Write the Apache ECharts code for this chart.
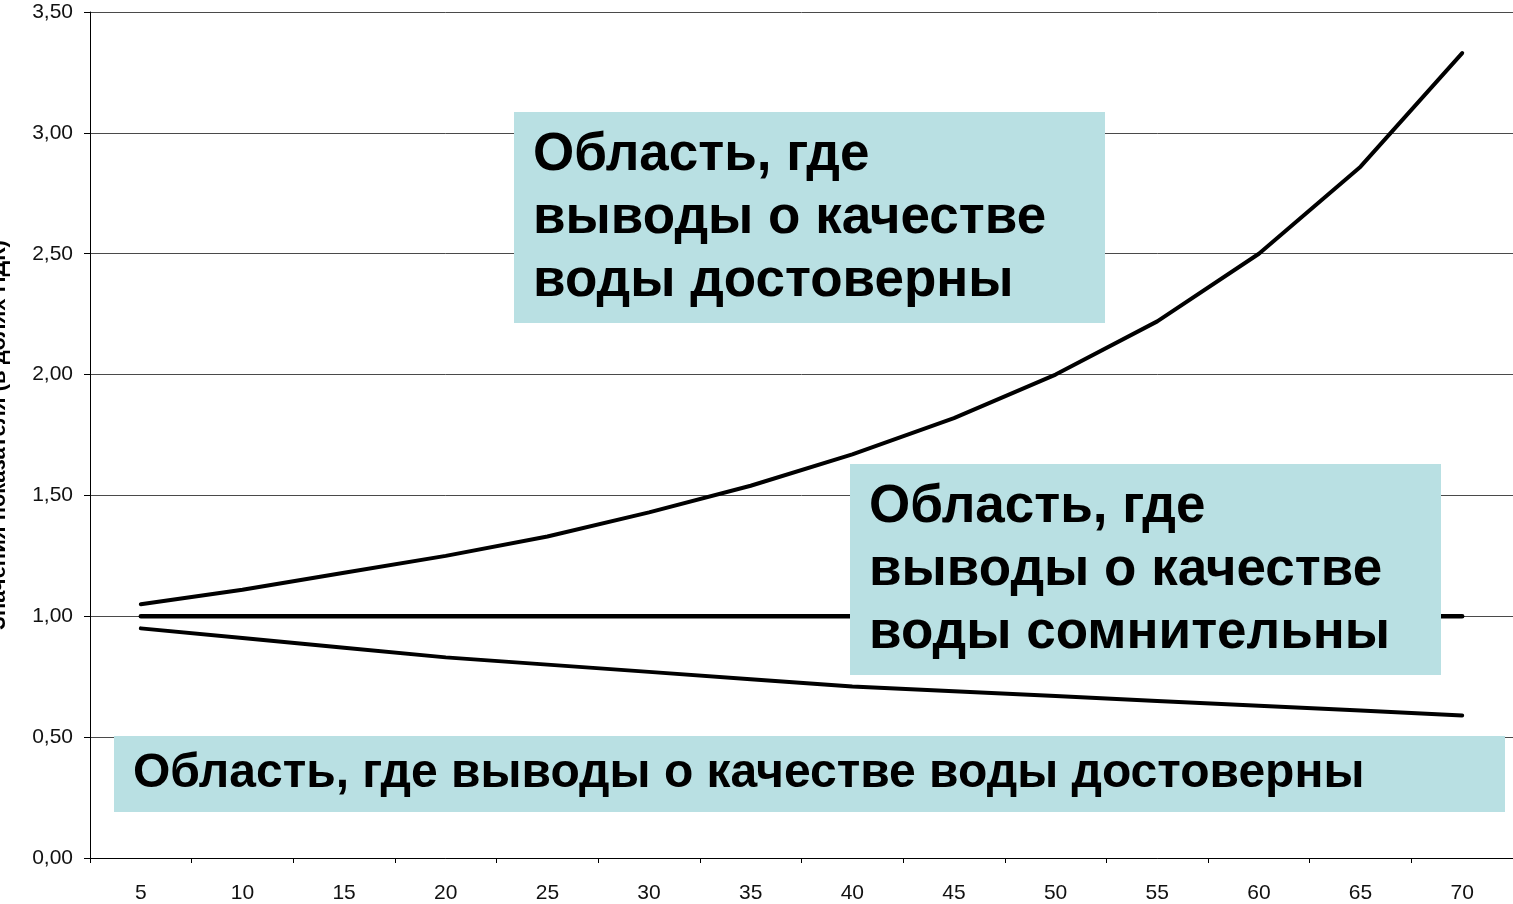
<!DOCTYPE html>
<html>
<head>
<meta charset="utf-8">
<script src="https://cdn.jsdelivr.net/npm/echarts@6/dist/echarts.min.js"></script>
<style>
  html, body { margin: 0; padding: 0; background: #fff; overflow: hidden; }
  #chart { width: 1513px; height: 904px; }
</style>
</head>
<body>
<div id="chart"></div>
<script>
// Categories along the horizontal axis
const categories = ['5', '10', '15', '20', '25', '30', '35', '40', '45', '50', '55', '60', '65', '70'];

// Upper boundary curve
const upperValues = [1.05, 1.11, 1.18, 1.25, 1.33, 1.43, 1.54, 1.67, 1.82, 2.00, 2.22, 2.50, 2.86, 3.33];
// Reference level
const middleValues = [1.00, 1.00, 1.00, 1.00, 1.00, 1.00, 1.00, 1.00, 1.00, 1.00, 1.00, 1.00, 1.00, 1.00];
// Lower boundary curve
const lowerValues = [0.95, 0.91, 0.87, 0.83, 0.80, 0.77, 0.74, 0.71, 0.69, 0.67, 0.65, 0.63, 0.61, 0.59];

// Y-axis tick settings
const yMin = 0, yMax = 3.5, yStep = 0.5;

const yAxisTitle = 'Значения показателя (в долях ПДК)';
const regionTop = ['Область, где', 'выводы о качестве', 'воды достоверны'];
const regionMiddle = ['Область, где', 'выводы о качестве', 'воды сомнительны'];
const regionBottom = 'Область, где выводы о качестве воды достоверны';

const FONT = '"Liberation Sans", Arial, sans-serif';
const boxFill = '#b9e0e3';

// Filled annotation box with bold multi-line caption
function box(x, y, w, h, lines, fontSize, lineHeight, padX, padY) {
  return {
    type: 'group',
    z: 100,
    children: [
      { type: 'rect', shape: { x: x, y: y, width: w, height: h }, style: { fill: boxFill }, z: 100 },
      {
        type: 'text', z: 101,
        x: x + padX, y: y + padY,
        style: {
          text: lines.join('\n'),
          font: 'bold ' + fontSize + 'px ' + FONT,
          fill: '#000',
          lineHeight: lineHeight,
          textVerticalAlign: 'top'
        }
      }
    ]
  };
}

const chart = echarts.init(document.getElementById('chart'));

const lineStyleFor = (w) => ({ color: '#000', width: w, cap: 'round', join: 'round' });

chart.setOption({
  animation: false,
  backgroundColor: '#fff',
  grid: { left: 90, right: 0, top: 12, bottom: 46, containLabel: false, outerBoundsMode: 'none' },
  xAxis: {
    type: 'category',
    data: categories,
    boundaryGap: true,
    axisLine: { lineStyle: { color: '#000', width: 1 } },
    axisTick: { show: true, length: 5, lineStyle: { color: '#000' }, alignWithLabel: false },
    axisLabel: { color: '#111', fontFamily: FONT, fontSize: 21, margin: 25 },
    splitLine: { show: false }
  },
  yAxis: {
    type: 'value',
    min: yMin, max: yMax, interval: yStep,
    name: yAxisTitle,
    nameLocation: 'middle',
    nameRotate: 90,
    nameGap: 80,
    nameTextStyle: { color: '#000', fontFamily: FONT, fontSize: 22, fontWeight: 'bold' },
    axisLine: { show: true, lineStyle: { color: '#000', width: 1 } },
    axisTick: { show: true, length: 6, lineStyle: { color: '#000' } },
    axisLabel: {
      color: '#111', fontFamily: FONT, fontSize: 21, margin: 17,
      formatter: (v) => v.toFixed(2).replace('.', ',')
    },
    splitLine: { show: true, lineStyle: { color: '#4a4a4a', width: 1 } }
  },
  series: [
    { type: 'line', data: upperValues, symbol: 'none', lineStyle: lineStyleFor(4), z: 3 },
    { type: 'line', data: middleValues, symbol: 'none', lineStyle: lineStyleFor(4.5), z: 3 },
    { type: 'line', data: lowerValues, symbol: 'none', lineStyle: lineStyleFor(4), z: 3 }
  ],
  graphic: [
    box(514, 112, 591, 211, regionTop, 53, 63, 19, 12),
    box(850, 464, 591, 211, regionMiddle, 53, 63, 19, 12),
    box(114, 736, 1391, 76, [regionBottom], 48, 63, 19, 6)
  ]
});
</script>
</body>
</html>
